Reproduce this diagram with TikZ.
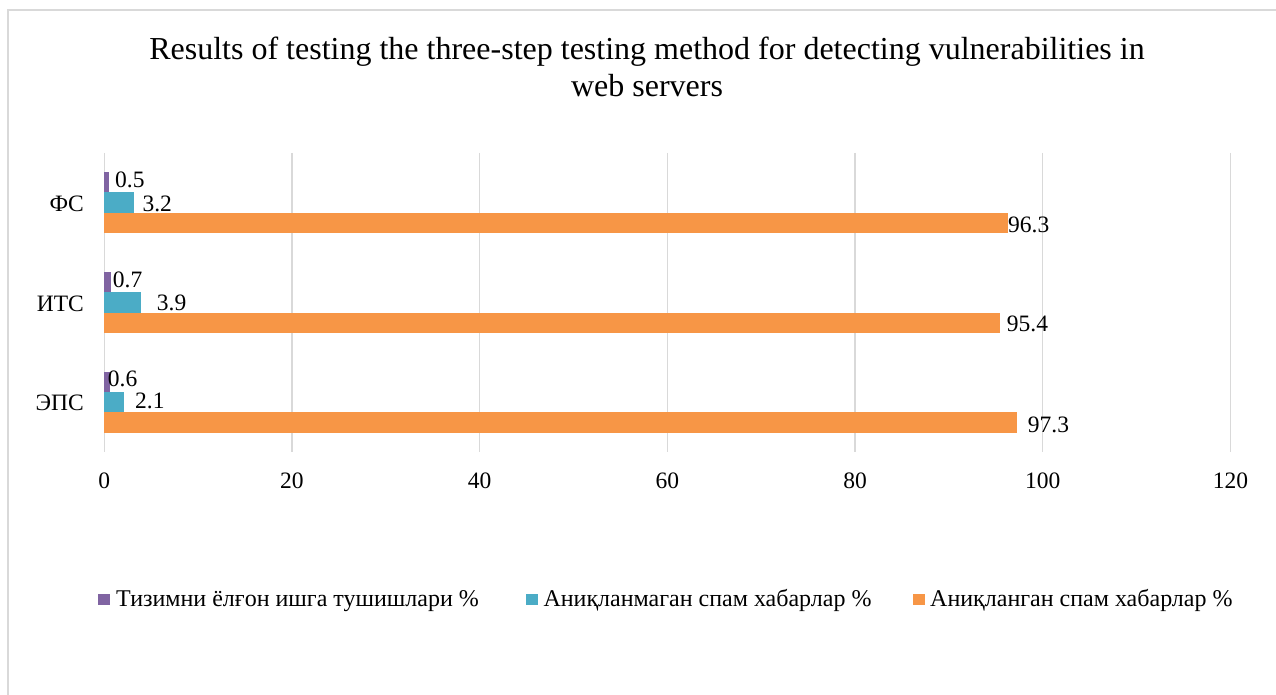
\documentclass[tikz,border=0pt]{standalone}
\usepackage{fontspec}
\setmainfont{Liberation Serif}
\definecolor{serA}{HTML}{8064A2}
\definecolor{serB}{HTML}{4BACC6}
\definecolor{serC}{HTML}{F79646}
\definecolor{gridgray}{HTML}{D9D9D9}
\begin{document}
\begin{tikzpicture}[x=1pt,y=-1pt,
  gridline/.style={draw=gridgray,line width=1.4pt},
  framestyle/.style={draw=gridgray,line width=1.4pt},
  txt/.style={inner sep=0pt,font=\fontsize{23.5}{28}\selectfont},
  vallbl/.style={txt,anchor=base west},
  catlbl/.style={txt,anchor=base east},
  ticklbl/.style={txt,anchor=base},
  legtxt/.style={inner sep=0pt,anchor=base west,font=\fontsize{24}{28}\selectfont},
  titletxt/.style={inner sep=0pt,anchor=base,font=\fontsize{32}{38}\selectfont}]
% canvas
\useasboundingbox (0,0) rectangle (1276,695);
\fill[white] (0,0) rectangle (1276,695);
% outer chart frame (runs off the right and bottom)
\draw[framestyle] (8,695) -- (8,10) -- (1276,10);
% title
\node[titletxt] (title1) at (647,60) {Results of testing the three-step testing method for detecting vulnerabilities in};
\node[titletxt] (title2) at (647,96.5) {web servers};
% vertical gridlines and value-axis labels
\foreach \v in {0,20,...,120}{
  \draw[gridline] ({104.3+9.384*\v},153) -- ({104.3+9.384*\v},452);
  \node[ticklbl] (tick\v) at ({104.3+9.384*\v},488) {\v};
}
% bars: category centre, then three series values
\foreach \c/\a/\b/\o/\name in {202.6/0.5/3.2/96.3/fs, 302.3/0.7/3.9/95.4/its, 402/0.6/2.1/97.3/eps}{
  \fill[serA] (104.3,{\c-30.5}) rectangle ({104.3+9.384*\a},{\c-10.2});
  \fill[serB] (104.3,{\c-10.2}) rectangle ({104.3+9.384*\b},{\c+10.2});
  \fill[serC] (104.3,{\c+10.2}) rectangle ({104.3+9.384*\o},{\c+30.5});
}
% category labels
\node[catlbl] (catfs)  at (84,211.5) {ФС};
\node[catlbl] (catits) at (84,311.2) {ИТС};
\node[catlbl] (cateps) at (84,410.9) {ЭПС};
% data labels
\node[vallbl] (vfsA)  at (115,187.3) {0.5};
\node[vallbl] (vfsB)  at (142.3,211.7) {3.2};
\node[vallbl] (vfsC)  at (1008,232.7) {96.3};
\node[vallbl] (vitsA) at (112.7,287.7) {0.7};
\node[vallbl] (vitsB) at (156.7,310.5) {3.9};
\node[vallbl] (vitsC) at (1006.7,331.7) {95.4};
\node[vallbl] (vepsA) at (107.7,386.5) {0.6};
\node[vallbl] (vepsB) at (135,408.5) {2.1};
\node[vallbl] (vepsC) at (1027.7,432.7) {97.3};
% legend
\fill[serA] (98.3,593.5) rectangle (110,605.2);
\node[legtxt] (legA) at (116,606.7) {Тизимни ёлғон ишга тушишлари \%};
\fill[serB] (526,593.5) rectangle (537.7,605.2);
\node[legtxt] (legB) at (543.3,606.7) {Аниқланмаган спам хабарлар \%};
\fill[serC] (913,593.5) rectangle (924.7,605.2);
\node[legtxt] (legC) at (930,606.7) {Аниқланган спам хабарлар \%};
\end{tikzpicture}
\end{document}
